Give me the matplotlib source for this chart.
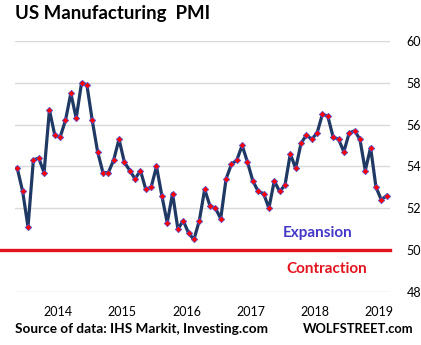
import numpy as np
import matplotlib
matplotlib.use("Agg")
import matplotlib.pyplot as plt

plt.rcParams['font.family'] = ['Lato', 'DejaVu Sans']

# --- Daten (monatlich) ---
pmi = [53.9, 52.8, 51.1, 54.3, 54.4, 53.7, 56.7, 55.5, 55.4, 56.2, 57.5, 56.3,
       58.0, 57.9, 56.2, 54.7, 53.7, 53.7, 54.3, 55.3, 54.2, 53.8, 53.4, 53.8,
       52.9, 53.0, 54.0, 52.6, 51.3, 52.7, 51.0, 51.4, 50.8, 50.5, 51.4, 52.9, 52.1,
       52.0, 51.5, 53.4, 54.1, 54.3, 55.0, 54.2, 53.3, 52.8, 52.7, 52.0, 53.3,
       52.8, 53.1, 54.6, 53.9, 55.1, 55.5, 55.3, 55.6, 56.5, 56.4, 55.4, 55.3,
       54.7, 55.6, 55.7, 55.3, 53.8, 54.9, 53.0, 52.4, 52.6]
jahre = ['2014', '2015', '2016', '2017', '2018', '2019']
y_ticks = [48, 50, 52, 54, 56, 58, 60]

x = np.arange(len(pmi))

fig = plt.figure(figsize=(4.21, 3.45), dpi=100)
ax = fig.add_axes([15 / 421, 1 - 291.7 / 345, 375 / 421, 250.7 / 345])

ax.set_xlim(-0.43, len(pmi) - 1 + 0.62)
ax.set_ylim(48, 60)

for v in y_ticks:
    if v != 50:
        ax.axhline(v, color='#d9d9d9', linewidth=1.0, zorder=1)

# Grenze Expansion / Kontraktion
ax.axhline(50, xmin=-0.04, xmax=1.0, color='#e3141e', linewidth=2.4,
           clip_on=False, zorder=2)

ax.plot(x, pmi, color='#1f3864', linewidth=2.3, zorder=3,
        marker='D', markersize=3.3, markerfacecolor='#ff0000',
        markeredgecolor='#5050d0', markeredgewidth=0.5)

ax.yaxis.tick_right()
ax.set_yticks(y_ticks)
ax.set_yticklabels([str(v) for v in y_ticks], fontsize=9)
ax.tick_params(axis='y', length=0, pad=12)

ax.set_xticks(7.6 + 12 * np.arange(len(jahre)))
ax.set_xticklabels(jahre, fontsize=9)
ax.tick_params(axis='x', length=0, pad=10)

for s in ax.spines.values():
    s.set_visible(False)

ax.text(49.6, 50.82, "Expansion", color='#4338c8', fontsize=11,
        fontweight='bold', ha='left', va='center')
ax.text(50.2, 49.1, "Contraction", color='#e3141e', fontsize=11,
        fontweight='bold', ha='left', va='center')

fig.text(15 / 421, 1 - 14 / 345, "US Manufacturing  PMI", fontsize=13.4,
         fontweight='bold', ha='left', va='center')
fig.text(15 / 421, 1 - 329 / 345, "Source of data: IHS Markit, Investing.com",
         fontsize=9.8, fontweight='bold', ha='left', va='center')
fig.text(414 / 421, 1 - 329 / 345, "WOLFSTREET.com", fontsize=9.3,
         fontweight='bold', ha='right', va='center')

plt.savefig("out.png", dpi=100)
